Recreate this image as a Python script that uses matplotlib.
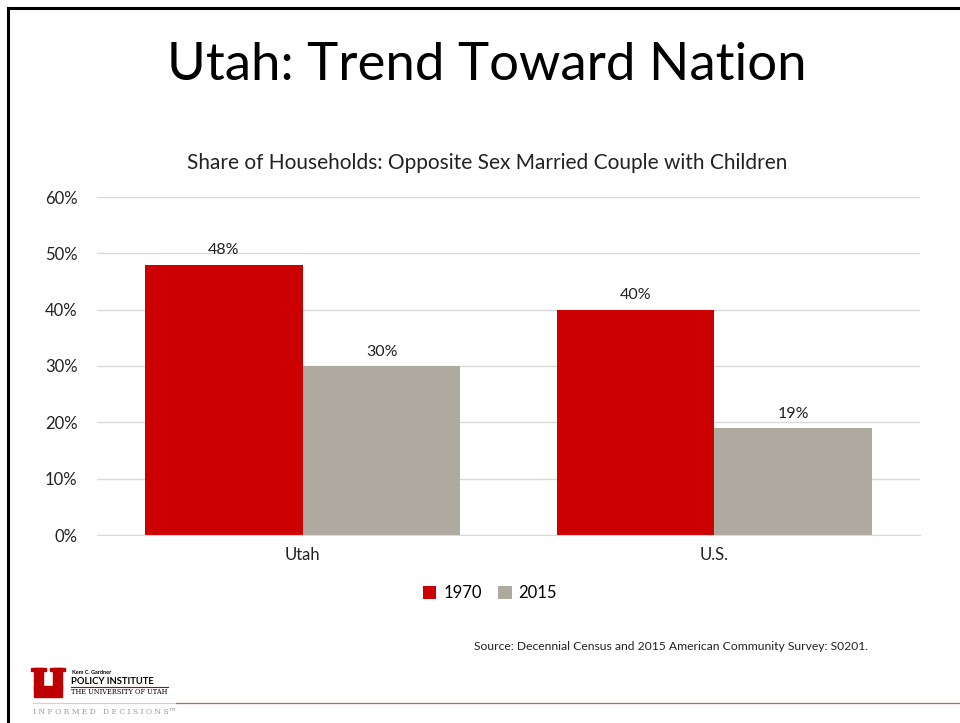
import matplotlib.pyplot as plt
from matplotlib.patches import Rectangle
from matplotlib.lines import Line2D
from matplotlib.ticker import FuncFormatter

categories = ["Utah", "U.S."]
series_names = ["1970", "2015"]
values_1970 = [48, 40]
values_2015 = [30, 19]
y_ticks = [0, 10, 20, 30, 40, 50, 60]

red = "#cc0000"
grey = "#aeaa9f"

plt.rcParams["font.family"] = ["Lato", "DejaVu Sans"]

fig = plt.figure(figsize=(9.6, 7.23), dpi=100)

# slide border (top and left)
fig.add_artist(Line2D([8 / 960, 1], [1 - 8 / 723, 1 - 8 / 723], color="black", lw=2.2))
fig.add_artist(Line2D([8 / 960, 8 / 960], [0, 1 - 8 / 723], color="black", lw=2.2))

fig.text(487 / 960, 1 - 66 / 723, "Utah: Trend Toward Nation", ha="center", va="center",
         fontsize=38, color="black")

ax = fig.add_axes([97 / 960, 1 - 535 / 723, 823 / 960, 338 / 723])
w = 0.383
x = range(len(categories))
b1 = ax.bar([i - w / 2 for i in x], values_1970, width=w, color=red, label=series_names[0], zorder=2)
b2 = ax.bar([i + w / 2 for i in x], values_2015, width=w, color=grey, label=series_names[1], zorder=2)
for bars in (b1, b2):
    for r in bars:
        ax.text(r.get_x() + r.get_width() / 2, r.get_height() + 1.3, f"{r.get_height():.0f}%",
                ha="center", va="bottom", fontsize=11.5, color="#222222")

ax.set_xlim(-0.5, 1.5)
ax.set_ylim(0, 60)
ax.set_yticks(y_ticks)
ax.yaxis.set_major_formatter(FuncFormatter(lambda v, p: f"{v:.0f}%"))
ax.set_xticks(list(x))
ax.set_xticklabels(categories)
ax.grid(axis="y", color="#d9d9d9", lw=1, zorder=0)
for s in ["top", "right", "left"]:
    ax.spines[s].set_visible(False)
ax.spines["bottom"].set_color("#d9d9d9")
ax.tick_params(axis="both", length=0, labelsize=12, colors="#222222")
ax.tick_params(axis="y", pad=14)
ax.tick_params(axis="x", pad=9)

fig.text(487 / 960, 1 - 163 / 723, "Share of Households: Opposite Sex Married Couple with Children",
         ha="center", va="center", fontsize=15, color="#222222")

fig.legend(handles=[b1, b2], labels=series_names, loc="center", bbox_to_anchor=(490 / 960, 1 - 593 / 723),
           ncol=2, frameon=False, fontsize=12, handlelength=0.8, handleheight=0.8,
           handletextpad=0.4, columnspacing=1.0)

fig.text(671 / 960, 1 - 646 / 723, "Source: Decennial Census and 2015 American Community Survey: S0201.",
         ha="center", va="center", fontsize=8.7, color="#222222")

# logo block
lx = fig.add_axes([0, 0, 1, 1], zorder=-1)
lx.set_xlim(0, 960)
lx.set_ylim(723, 0)
lx.axis("off")
lx.add_patch(Rectangle((34, 668), 9, 22, color="#be0000"))
lx.add_patch(Rectangle((53, 668), 9, 22, color="#be0000"))
lx.add_patch(Rectangle((34, 686), 28, 11, color="#be0000"))
lx.add_patch(Rectangle((31, 668), 15, 3, color="#be0000"))
lx.add_patch(Rectangle((50, 668), 15, 3, color="#be0000"))
lx.text(72, 672, "Kem C. Gardner", fontsize=4, fontweight="bold", va="center")
lx.text(71, 681, "POLICY INSTITUTE", fontsize=6.8, fontweight="bold", va="center")
lx.plot([71, 168], [686.5, 686.5], color="#be0000", lw=0.8)
lx.text(71, 692, "THE UNIVERSITY OF UTAH", fontsize=4.8, family="DejaVu Serif", va="center")
lx.plot([33, 176], [702.5, 702.5], color="#f1c3c3", lw=0.9)
lx.plot([176, 960], [702.5, 702.5], color="#e8505a", lw=0.9)
lx.text(33, 712, "I N F O R M E D   D E C I S I O N S\u2122", fontsize=5.5, color="#9a9a9a",
        family="DejaVu Serif", va="center")

fig.savefig("out.png", dpi=100)
